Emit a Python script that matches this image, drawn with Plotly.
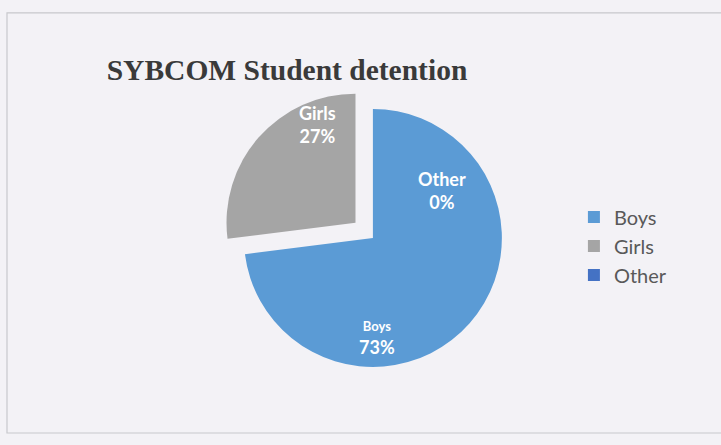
import plotly.graph_objects as go

categories = ["Boys", "Girls", "Other"]
values = [73, 27, 0]
colors = ["#5b9bd5", "#a5a5a5", "#4472c4"]
pulls = [0, 0.18, 0]

# label placement (paper coords) for the data labels
label_pos = {"Boys": (0.523, 0.24), "Girls": (0.441, 0.721), "Other": (0.613, 0.573)}
label_size = {"Boys": 13, "Girls": 18, "Other": 18}

total = sum(values)

fig = go.Figure()
fig.add_trace(go.Pie(
    labels=categories,
    values=values,
    sort=False,
    direction="clockwise",
    rotation=0,
    pull=pulls,
    marker=dict(colors=colors, line=dict(width=0)),
    textinfo="none",
    hoverinfo="label+percent",
    domain=dict(x=[0.306, 0.7284], y=[0.1232, 0.8072]),
    showlegend=True,
))

for cat, v in zip(categories, values):
    px_, py_ = label_pos[cat]
    pct = round(v / total * 100)
    fig.add_annotation(
        x=px_, y=py_, xref="paper", yref="paper",
        xanchor="center", yanchor="middle",
        text=f"<span style='font-size:{label_size[cat]}px'><b>{cat}</b></span><br><b>{pct}%</b>",
        showarrow=False,
        font=dict(family="Lato", size=18, color="white"),
    )

fig.add_shape(type="rect", xref="paper", yref="paper",
              x0=0.0097, x1=1.02, y0=0.027, y1=0.971,
              line=dict(color="#c8c8cc", width=1.2))

fig.update_layout(
    width=721, height=445,
    margin=dict(l=0, r=0, t=0, b=0),
    paper_bgcolor="#f3f2f6",
    plot_bgcolor="#f3f2f6",
    title=dict(text="<b>SYBCOM Student detention</b>", x=0.148, xanchor="left",
               y=0.843, yanchor="middle", pad=dict(l=0, r=0, t=0, b=0),
               font=dict(family="Liberation Serif", size=29.5, color="#3a3a3a")),
    legend=dict(x=0.796, y=0.447, yanchor="middle", xanchor="left",
                font=dict(family="Lato", size=20, color="#595959"),
                bgcolor="rgba(0,0,0,0)", itemwidth=30),
)

fig.write_html("out.html", config={"displayModeBar": False},
               post_script="document.body.style.margin='0';")
